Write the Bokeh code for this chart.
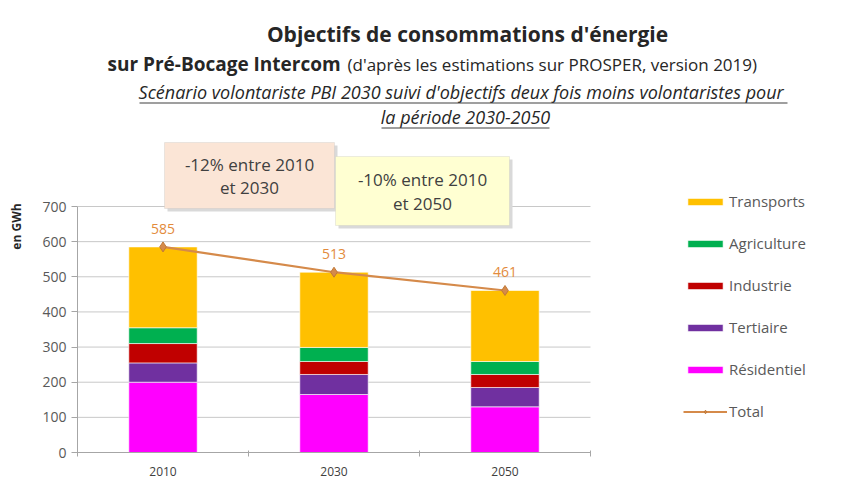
from bokeh.plotting import figure
from bokeh.models import (ColumnDataSource, FixedTicker, Label, LabelSet, BoxAnnotation,
                          Legend, LegendItem, Range1d)
from bokeh.core.properties import value
from bokeh.embed import file_html
from bokeh.resources import INLINE

# ---- data ----
years = ["2010", "2030", "2050"]
residentiel = [200, 165, 130]
tertiaire = [55, 57, 55]
industrie = [55, 37, 37]
agriculture = [45, 40, 37]
transports = [230, 214, 202]
total = [585, 513, 461]
sectors = ["Résidentiel", "Tertiaire", "Industrie", "Agriculture", "Transports"]
colors = ["#FF00FF", "#7030A0", "#C00000", "#00B050", "#FFC000"]
y_ticks = [0, 100, 200, 300, 400, 500, 600, 700]

FONT = "Open Sans"
W, H = 837, 479
DX, DY = 8, 12            # shift of the layout so that everything fits
FL = 85 - DX              # frame left in figure pixels
FB = 464 - DY             # frame bottom in figure pixels
PLOT_H = 246              # pixels for 0..700
CAT_W = 171               # pixels per category
Y_MAX = y_ticks[-1]

xpos = [i + 0.5 for i in range(len(years))]
src = ColumnDataSource(dict(x=xpos, year=years, total=total,
                            total_txt=[str(t) for t in total],
                            **dict(zip(sectors, [residentiel, tertiaire, industrie,
                                                  agriculture, transports]))))

# frame extends to the top and right of the canvas so annotations are not clipped
p = figure(width=W, height=H,
           x_range=Range1d(0, (W - FL) / CAT_W),
           y_range=Range1d(0, Y_MAX * FB / PLOT_H),
           output_backend="svg", toolbar_location=None,
           min_border_left=FL, min_border_right=0, min_border_top=0,
           min_border_bottom=H - FB)
p.outline_line_color = None
p.background_fill_color = "white"
p.border_fill_color = "white"
p.xgrid.visible = False
p.ygrid.visible = False

# horizontal gridlines limited to the chart area
p.segment(x0=[0] * len(y_ticks), x1=[len(years)] * len(y_ticks), y0=y_ticks, y1=y_ticks,
          line_color="#C8C8C8", line_width=1)

ya = p.yaxis[0]
ya.ticker = FixedTicker(ticks=y_ticks)
ya.bounds = (0, Y_MAX)
ya.axis_line_color = "#A6A6A6"
ya.major_tick_line_color = "#A6A6A6"
ya.major_tick_out = 6
ya.major_tick_in = 0
ya.minor_tick_line_color = None
ya.major_label_text_font = FONT
ya.major_label_text_font_size = "14px"
ya.major_label_text_color = "#595959"
ya.major_label_standoff = 5
ya.axis_label = "en GWh"
ya.axis_label_text_font = FONT
ya.axis_label_text_font_size = "12px"
ya.axis_label_text_font_style = "bold"
ya.axis_label_text_color = "#262626"
ya.axis_label_standoff = 14

xa = p.xaxis[0]
xa.ticker = FixedTicker(ticks=xpos, minor_ticks=list(range(len(years) + 1)))
xa.bounds = (0, len(years))
xa.major_label_overrides = {x: y for x, y in zip(xpos, years)}
xa.axis_line_color = "#A6A6A6"
xa.major_tick_line_color = None
xa.major_tick_out = 0
xa.major_tick_in = 0
xa.minor_tick_line_color = "#A6A6A6"
xa.minor_tick_out = 4
xa.minor_tick_in = 2
xa.major_label_text_font = FONT
xa.major_label_text_font_size = "12px"
xa.major_label_text_color = "#404040"
xa.major_label_standoff = 10

bars = p.vbar_stack(sectors, x="x", width=0.4, color=colors, source=src,
                    line_color="white", line_width=0.6)
ln = p.line("x", "total", source=src, line_color="#D58A4A", line_width=2.2)
mk = p.scatter("x", "total", source=src, marker="diamond", size=10,
               fill_color="#D58A4A", line_color="#C07838")
p.add_layout(LabelSet(x="x", y="total", text="total_txt", source=src, y_offset=13,
                      text_align="center", text_font=value(FONT), text_font_size="14px",
                      text_color="#E38B3C"))

items = [LegendItem(label=s, renderers=[r]) for s, r in zip(sectors, bars)][::-1]
items.append(LegendItem(label="Total", renderers=[ln, mk]))
legend = Legend(items=items, location=(606, 31), glyph_width=44, glyph_height=9,
                label_height=20, spacing=22, padding=0, margin=0,
                border_line_color=None, background_fill_alpha=0,
                label_text_font=FONT, label_text_font_size="15px",
                label_text_color="#595959", label_standoff=2)
p.add_layout(legend, "center")


# reference-picture coords -> screen coords (frame relative, bottom-up)
def sx(px):
    return (px - DX) - FL


def sy(py):
    return FB - (py - DY)


def lab(text, px, py, size, style="normal", color="#262626", align="left"):
    p.add_layout(Label(x=sx(px), y=sy(py), x_units="screen", y_units="screen", text=text,
                       text_font=FONT, text_font_size=size, text_font_style=style,
                       text_color=color, text_align=align, text_baseline="middle"))


def box(l, r, t, b, fill, line="#BFBFBF"):
    p.add_layout(BoxAnnotation(left=sx(l), right=sx(r), top=sy(t), bottom=sy(b),
                               left_units="screen", right_units="screen",
                               top_units="screen", bottom_units="screen",
                               fill_color=fill, fill_alpha=1, line_color=line,
                               line_width=1))


# titles
lab("Objectifs de consommations d'énergie", 475, 45, "21px", "bold", align="center")
lab("sur Pré-Bocage Intercom", 115, 75, "19px", "bold")
lab("(d'après les estimations sur PROSPER, version 2019)", 355, 76, "17px")
lab("Scénario volontariste PBI 2030 suivi d'objectifs deux fois moins volontaristes  pour",
    471, 103, "18px", "italic", align="center")
lab("la période 2030-2050", 473, 128, "18px", "italic", align="center")
box(147, 795, 114, 115, "#404040", None)
box(389, 557, 139, 140, "#404040", None)

# annotation boxes
box(175, 345, 157, 223, "#D9D9D9", None)
box(172, 342, 154, 220, "#FBE5D6")
lab("-12% entre 2010", 257, 176, "17px", color="#404040", align="center")
lab("et 2030", 257, 199, "17px", color="#404040", align="center")
box(346, 520, 171, 240, "#D9D9D9", None)
box(343, 517, 168, 237, "#FFFFD2")
lab("-10% entre 2010", 430, 191, "17px", color="#404040", align="center")
lab("et 2050", 430, 215, "17px", color="#404040", align="center")

open("out.html", "w").write(file_html(p, INLINE))
